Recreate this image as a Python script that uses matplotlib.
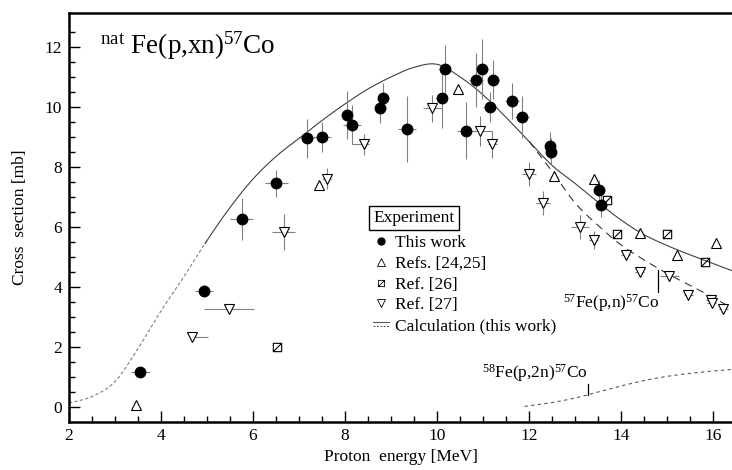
import numpy as np
import matplotlib
matplotlib.use("Agg")
import matplotlib.pyplot as plt
from matplotlib.lines import Line2D
from matplotlib.path import Path
from matplotlib.legend_handler import HandlerBase

plt.rcParams["font.family"] = ["Liberation Serif", "DejaVu Serif"]
plt.rcParams["mathtext.fontset"] = "custom"
plt.rcParams["mathtext.rm"] = "Liberation Serif"
plt.rcParams["mathtext.it"] = "Liberation Serif:italic"
plt.rcParams["mathtext.bf"] = "Liberation Serif:bold"

# ---- This work (natFe(p,xn)57Co) ----
tw_E = [3.55, 4.93, 5.75, 6.50, 7.17, 7.50, 8.04, 8.15, 8.76, 8.83, 9.35, 10.10,
        10.17, 10.63, 10.85, 10.98, 11.15, 11.22, 11.63, 11.85, 12.46, 12.48, 13.52, 13.57]
tw_sig = [1.15, 3.85, 6.25, 7.45, 8.95, 9.00, 9.72, 9.40, 9.95, 10.30, 9.25, 10.30,
          11.25, 9.20, 10.90, 11.25, 10.00, 10.90, 10.20, 9.65, 8.70, 8.50, 7.23, 6.72]
tw_dE = [0.20, 0.20, 0.25, 0.25, 0.15, 0.20, 0.12, 0.20, 0.12, 0.12, 0.20, 0.12,
         0.12, 0.20, 0.15, 0.12, 0.15, 0.12, 0.15, 0.15, 0.10, 0.10, 0.12, 0.12]
tw_dsig = [0.10, 0.20, 0.70, 0.45, 0.65, 0.50, 0.80, 0.65, 0.50, 0.50, 1.10, 1.00,
           0.80, 0.95, 0.90, 1.00, 0.50, 0.65, 0.60, 0.70, 0.45, 0.45, 0.35, 0.40]

# ---- Refs. [24,25] ----
r24_E = [3.45, 7.43, 10.45, 12.55, 13.42, 14.40, 15.22, 16.07]
r24_sig = [0.05, 7.40, 10.60, 7.70, 7.60, 5.80, 5.08, 5.45]

# ---- Ref. [26] ----
r26_E = [6.52, 13.70, 13.90, 15.00, 15.83]
r26_sig = [2.00, 6.90, 5.75, 5.75, 4.83]

# ---- Ref. [27] ----
r27_E = [4.67, 5.48, 6.67, 7.60, 8.41, 9.90, 10.93, 11.20, 12.00, 12.30, 13.10,
         13.40, 14.10, 14.40, 15.05, 15.46, 15.95, 15.97, 16.22]
r27_sig = [2.33, 3.27, 5.83, 7.60, 8.75, 9.95, 9.20, 8.75, 7.75, 6.80, 6.00,
           5.55, 5.05, 4.50, 4.35, 3.72, 3.55, 3.45, 3.28]
r27_dE_lo = [0.00, 0.55, 0.25, 0.10, 0.26, 0.20, 0.30, 0.10, 0.15, 0.15, 0.20,
             0.10, 0.10, 0.10, 0.20, 0.10, 0.10, 0.10, 0.10]
r27_dE_hi = [0.35, 0.55, 0.25, 0.10, 0.10, 0.20, 0.27, 0.10, 0.15, 0.15, 0.20,
             0.10, 0.10, 0.10, 0.20, 0.10, 0.10, 0.10, 0.10]
r27_dsig = [0.00, 0.00, 0.60, 0.35, 0.35, 0.45, 0.50, 0.45, 0.40, 0.40, 0.40,
            0.30, 0.15, 0.15, 0.15, 0.10, 0.10, 0.10, 0.10]

# ---- Model calculations ----
calc_E = [2.0, 2.5, 3.0, 3.5, 4.0, 4.5, 5.0, 5.5, 6.0, 6.5, 7.0, 7.5, 8.0, 8.5, 9.0,
          9.5, 10.0, 10.5, 11.0, 11.5, 12.0, 12.5, 13.0, 13.5, 14.0, 14.5, 15.0,
          15.5, 16.0, 16.4]
calc_sig = [0.13, 0.35, 0.85, 1.95, 3.20, 4.35, 5.55, 6.65, 7.60, 8.35, 8.95, 9.55,
            10.10, 10.60, 11.00, 11.32, 11.42, 11.00, 10.40, 9.65, 8.85, 8.05, 7.45,
            6.82, 6.23, 5.74, 5.38, 5.07, 4.78, 4.55]
pn_E = [12.0, 12.5, 13.0, 13.5, 14.0, 14.5, 15.0, 15.5, 16.0, 16.4]
pn_sig = [8.85, 7.85, 6.80, 6.05, 5.40, 4.90, 4.45, 4.05, 3.65, 3.30]
p2n_E = [11.9, 12.5, 13.0, 13.5, 14.0, 14.5, 15.0, 15.5, 16.0, 16.4]
p2n_sig = [0.02, 0.15, 0.30, 0.50, 0.70, 0.88, 1.02, 1.12, 1.20, 1.25]

legend_labels = ["This work", "Refs. [24,25]", "Ref. [26]", "Ref. [27]",
                 "Calculation (this work)"]


def smooth(xs, ys, n=12):
    """Catmull-Rom spline through the tabulated points."""
    x = np.asarray(xs, float)
    y = np.asarray(ys, float)
    xp = np.concatenate([[2 * x[0] - x[1]], x, [2 * x[-1] - x[-2]]])
    yp = np.concatenate([[2 * y[0] - y[1]], y, [2 * y[-1] - y[-2]]])
    ox, oy = [], []
    t = np.linspace(0, 1, n, endpoint=False)
    for i in range(1, len(xp) - 2):
        p0, p1, p2, p3 = (np.array([xp[j], yp[j]]) for j in (i - 1, i, i + 1, i + 2))
        pts = 0.5 * ((2 * p1)[None, :] + np.outer(t, -p0 + p2)
                     + np.outer(t ** 2, 2 * p0 - 5 * p1 + 4 * p2 - p3)
                     + np.outer(t ** 3, -p0 + 3 * p1 - 3 * p2 + p3))
        ox.extend(pts[:, 0])
        oy.extend(pts[:, 1])
    ox.append(x[-1])
    oy.append(y[-1])
    return np.array(ox), np.array(oy)


# square with a diagonal stroke
sq_diag = Path([(-1, -1), (1, -1), (1, 1), (-1, 1), (-1, -1), (-1, -1), (1, 1)],
               [Path.MOVETO, Path.LINETO, Path.LINETO, Path.LINETO, Path.CLOSEPOLY,
                Path.MOVETO, Path.LINETO])

fig = plt.figure(figsize=(7.32, 4.70), dpi=100)
ax = fig.add_axes([69 / 732, 48 / 470, 663 / 732, 409 / 470])

ecol = "0.5"
ax.errorbar(tw_E, tw_sig, xerr=tw_dE, yerr=tw_dsig, fmt="none", ecolor=ecol,
            elinewidth=0.8, capsize=0, zorder=2)
ax.errorbar(r27_E, r27_sig, xerr=[r27_dE_lo, r27_dE_hi], yerr=r27_dsig, fmt="none",
            ecolor=ecol, elinewidth=0.8, capsize=0, zorder=2)

# calculations
E, S = smooth(calc_E, calc_sig)
low = E <= 5.0
ax.plot(E[low], S[low], color="0.5", lw=0.8, ls=(0, (3, 2)), zorder=1)
ax.plot(E[E >= 4.95], S[E >= 4.95], color="0.25", lw=0.8, zorder=1)
Epn, Spn = smooth(pn_E, pn_sig)
ax.plot(Epn, Spn, color="0.2", lw=0.8, ls=(0, (7, 5)), zorder=1)
Ep2n, Sp2n = smooth(p2n_E, p2n_sig)
ax.plot(Ep2n, Sp2n, color="0.35", lw=0.8, ls=(0, (3, 3)), zorder=1)

# experimental points
ax.plot(r24_E, r24_sig, ls="none", marker="^", ms=7, mfc="white", mec="black",
        mew=0.8, zorder=3)
ax.plot(r26_E, r26_sig, ls="none", marker=sq_diag, ms=6, mfc="none", mec="black",
        mew=0.8, zorder=3)
ax.plot(r27_E, r27_sig, ls="none", marker="v", ms=7, mfc="white", mec="black",
        mew=0.8, zorder=3)
ax.plot(tw_E, tw_sig, ls="none", marker="o", ms=7.5, mfc="black", mec="black",
        zorder=4)

# reaction labels with pointer strokes
ax.text(2.67, 11.78, r"$^{\mathrm{nat}}$ Fe(p,xn)$^{57}$Co", fontsize=19.5,
        ha="left", va="baseline")
ptr_pn = 14.8
top_pn = np.interp(ptr_pn, pn_E, pn_sig) - 0.05
ax.plot([ptr_pn, ptr_pn], [top_pn - 0.75, top_pn], color="black", lw=0.9)
ax.text(12.74, 3.45, r"$^{57}$Fe(p,n)$^{57}$Co", fontsize=12.5, ha="left",
        va="center")
ptr_p2n = 13.28
bot_p2n = np.interp(ptr_p2n, p2n_E, p2n_sig)
ax.plot([ptr_p2n, ptr_p2n], [bot_p2n, bot_p2n + 0.35], color="black", lw=0.9)
ax.text(10.98, 1.13, r"$^{58}$Fe(p,2n)$^{57}$Co", fontsize=12.5, ha="left",
        va="center")


class DoubleLineHandler(HandlerBase):
    def create_artists(self, legend, orig_handle, xdescent, ydescent, width,
                       height, fontsize, trans):
        y0 = height / 2 - ydescent
        a = Line2D([-xdescent, width - xdescent], [y0 + 1.5, y0 + 1.5],
                   color="0.3", lw=0.7, transform=trans)
        b = Line2D([-xdescent, width - xdescent], [y0 - 1.5, y0 - 1.5],
                   color="0.3", lw=0.7, ls=(0, (2, 1.5)), transform=trans)
        return [a, b]


calc_handle = Line2D([], [], color="0.3")
handles = [
    Line2D([], [], ls="none", marker="o", ms=5, mfc="black", mec="black"),
    Line2D([], [], ls="none", marker="^", ms=5.5, mfc="white", mec="black", mew=0.6),
    Line2D([], [], ls="none", marker=sq_diag, ms=4.5, mfc="none", mec="black", mew=0.6),
    Line2D([], [], ls="none", marker="v", ms=5.5, mfc="white", mec="black", mew=0.6),
    calc_handle,
]
leg = ax.legend(handles, legend_labels, title="Experiment", loc="upper left",
                bbox_to_anchor=(0.4585, 0.518), frameon=False, alignment="left",
                fontsize=12.5, title_fontsize=12.5, handlelength=0.9,
                handletextpad=0.35, labelspacing=0.26, borderpad=0,
                borderaxespad=0, handler_map={calc_handle: DoubleLineHandler()})
leg.get_title().set_bbox(dict(boxstyle="square,pad=0.25", fc="white", ec="black",
                              lw=1.0))
leg._legend_box.sep = 6.5

ax.set_xlim(2, 16.41)
ax.set_ylim(-0.5, 13.13)
ax.set_xticks(np.arange(2, 17, 2))
ax.set_xticks(np.arange(2, 16.5, 0.5), minor=True)
ax.set_yticks(np.arange(0, 13, 2))
ax.set_yticks(np.arange(0, 13, 0.5), minor=True)
ax.tick_params(which="both", direction="in", width=1.0, labelsize=12.5,
               top=False, right=False)
ax.tick_params(which="major", length=8)
ax.tick_params(which="minor", length=4)
ax.tick_params(axis="y", pad=5)
ax.tick_params(axis="x", pad=4)
for side in ("left", "bottom", "top"):
    ax.spines[side].set_linewidth(1.8)
ax.spines["right"].set_visible(False)

ax.set_xlabel("Proton  energy [MeV]", fontsize=12.5, labelpad=4)
ax.set_ylabel("Cross  section [mb]", fontsize=12.5, labelpad=12)

fig.savefig("out.png", dpi=100)
